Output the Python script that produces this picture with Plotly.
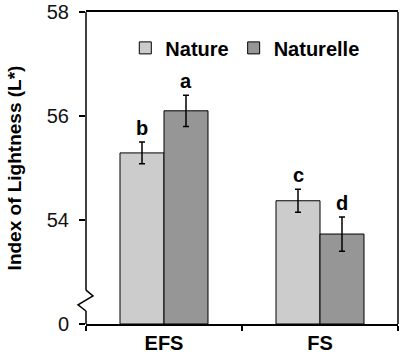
import plotly.graph_objects as go

categories = ["EFS", "FS"]
series_names = ["Nature", "Naturelle"]
nature_vals = [55.29, 54.37]
naturelle_vals = [56.10, 53.73]
nature_err = [0.21, 0.22]
naturelle_err = [0.30, 0.33]
nature_letters = ["b", "c"]
naturelle_letters = ["a", "d"]
tick_vals = [52, 54, 56, 58]
tick_text = ["0", "54", "56", "58"]
colors = ["#cccccc", "#969696"]

FONT = "Arial, Liberation Sans, sans-serif"
BASE = 52

fig = go.Figure()
for name, vals, errs, col in [
    (series_names[0], nature_vals, nature_err, colors[0]),
    (series_names[1], naturelle_vals, naturelle_err, colors[1]),
]:
    fig.add_trace(go.Bar(
        name=name, x=categories, y=[v - BASE for v in vals], base=BASE,
        marker=dict(color=col, line=dict(color="black", width=1)),
        error_y=dict(type="data", array=errs, color="black", thickness=1.5, width=3),
    ))

annotations = []
for vals, errs, letters, shift in [
    (nature_vals, nature_err, nature_letters, -22),
    (naturelle_vals, naturelle_err, naturelle_letters, 22),
]:
    for c, v, e, l in zip(categories, vals, errs, letters):
        annotations.append(dict(
            x=c, y=v + e, xref="x", yref="y", text=l, showarrow=False,
            xshift=shift, yanchor="bottom", yshift=1,
            font=dict(family=FONT, size=20, color="black", weight="bold"),
        ))

shapes = [
    dict(type="line", xref="paper", yref="y", x0=0, x1=0, y0=58, y1=52.65,
         line=dict(color="black", width=1.5)),
    dict(type="path", xref="paper", yref="y",
         path="M 0,52.65 L 0.0224,52.54 L -0.0256,52.37 L 0,52.25",
         line=dict(color="black", width=1.5)),
    dict(type="line", xref="paper", yref="y", x0=0, x1=0, y0=52.25, y1=52,
         line=dict(color="black", width=1.5)),
    dict(type="line", xref="paper", yref="paper", x0=1, x1=1, y0=0, y1=1,
         line=dict(color="black", width=1.5)),
]

fig.update_layout(
    width=402, height=360,
    margin=dict(l=86, r=4, t=12, b=36),
    paper_bgcolor="white", plot_bgcolor="white",
    barmode="group", bargap=0.436, bargroupgap=0,
    font=dict(family=FONT, color="#111111"),
    showlegend=True,
    legend=dict(orientation="h", x=0.126, y=0.885, xanchor="left", yanchor="middle",
                font=dict(family=FONT, size=20, color="black", weight="bold"),
                bgcolor="rgba(0,0,0,0)", itemwidth=30, traceorder="normal"),
    annotations=annotations,
    shapes=shapes,
)
fig.update_xaxes(
    automargin=False,
    showline=True, linecolor="black", linewidth=1.5, mirror=True,
    ticks="outside", tickson="boundaries", ticklen=5, tickcolor="black", tickwidth=1.5,
    tickfont=dict(family=FONT, size=20, color="black", weight="bold"),
    showgrid=False, zeroline=False,
)
fig.update_yaxes(
    automargin=False,
    range=[52, 58], tickvals=tick_vals, ticktext=tick_text,
    showline=False, ticks="outside", ticklen=6, tickcolor="black", tickwidth=1.5,
    ticklabelstandoff=6,
    tickfont=dict(family=FONT, size=20, color="#111111"),
    showgrid=False, zeroline=False,
    title=dict(text="Index of Lightness (L*)", standoff=20,
               font=dict(family=FONT, size=19, color="black", weight="bold")),
)
fig.write_html("out.html", config={"displayModeBar": False},
               post_script="document.body.style.margin='0';")
